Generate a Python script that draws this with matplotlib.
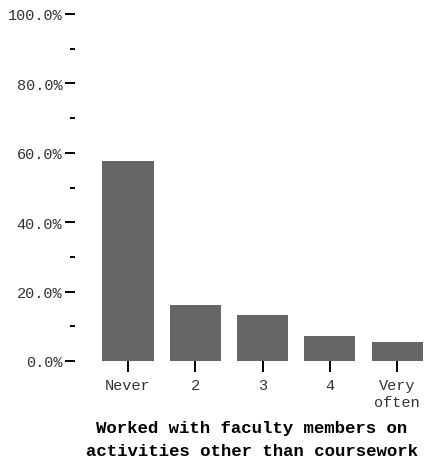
import matplotlib
matplotlib.use("Agg")
import matplotlib.pyplot as plt
from matplotlib.ticker import FixedLocator, FuncFormatter

plt.rcParams.update({
    "font.family": ["Liberation Mono", "DejaVu Sans Mono"],
    "font.size": 11,
})

categories = ["Never", "2", "3", "4", "Very\noften"]
percents = [57.6, 16.2, 13.3, 7.2, 5.5]
major_ticks = [0, 20, 40, 60, 80, 100]
minor_ticks = [10, 30, 50, 70, 90]
title = "Worked with faculty members on\nactivities other than coursework"

W, H = 433, 460
fig = plt.figure(figsize=(W / 100, H / 100), dpi=100)
ax = fig.add_axes([75 / W, 98 / H, 353 / W, 347 / H])

x = list(range(len(categories)))
ax.bar(x, percents, width=0.76, color="#666666")

ax.set_xlim(-0.787, 4.458)
ax.set_ylim(0, 100)
for s in ax.spines.values():
    s.set_visible(False)

ax.set_xticks(x)
ax.set_xticklabels(categories, fontsize=11, color="#333333", linespacing=1.25)
ax.yaxis.set_major_locator(FixedLocator(major_ticks))
ax.yaxis.set_minor_locator(FixedLocator(minor_ticks))
ax.yaxis.set_major_formatter(FuncFormatter(lambda v, p: f"{v:.1f}%"))
ax.tick_params(axis="y", which="major", length=7.2, width=1.4, pad=2,
               labelsize=11, labelcolor="#333333")
ax.tick_params(axis="y", which="minor", length=3.6, width=1.4)
ax.tick_params(axis="x", length=8, width=1.4, pad=4.5)

fig.text((75 + 428) / 2 / W, 1 - 440 / H, title, ha="center", va="center",
         fontsize=12.5, fontweight="bold", linespacing=1.7)

fig.savefig("out.png", dpi=100)
